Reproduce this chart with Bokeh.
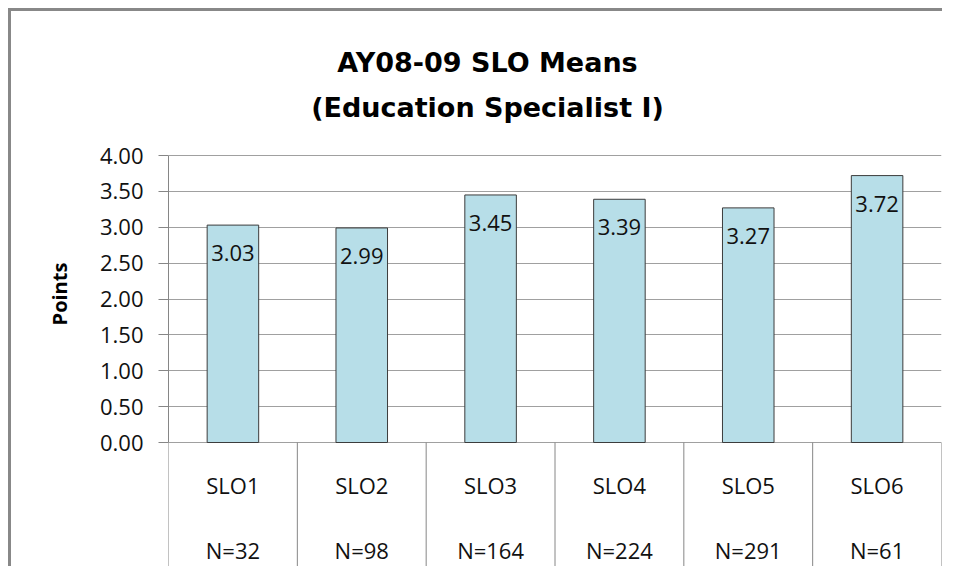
import numpy as np
from bokeh.plotting import figure
from bokeh.models import (Range1d, FactorRange, FixedTicker, PrintfTickFormatter,
                          ColumnDataSource)
from bokeh.core.properties import value
from bokeh.embed import file_html
from bokeh.resources import INLINE

# ---- data ----
categories = ["SLO1", "SLO2", "SLO3", "SLO4", "SLO5", "SLO6"]
n_labels = ["N=32", "N=98", "N=164", "N=224", "N=291", "N=61"]
means = [3.03, 2.99, 3.45, 3.39, 3.27, 3.72]
y_ticks = [0.0, 0.5, 1.0, 1.5, 2.0, 2.5, 3.0, 3.5, 4.0]
title_lines = ["AY08-09 SLO Means", "(Education Specialist I)"]
y_axis_title = "Points"

# ---- layout (canvas pixels) ----
W, H = 942, 566
FRAME_L, FRAME_R = 168, 941
FRAME_T, FRAME_B = 21, 566
ZERO_PX = 442
TOP_TICK_PX = 155
Y_AXIS_MAX = y_ticks[-1]
PX_PER_UNIT = (ZERO_PX - TOP_TICK_PX) / Y_AXIS_MAX
PX_PER_CAT = (FRAME_R - FRAME_L) / len(categories)
Y_MIN = -(FRAME_B - ZERO_PX) / PX_PER_UNIT
Y_MAX = (ZERO_PX - FRAME_T) / PX_PER_UNIT

FONT = value("Open Sans")
GRAY = "#868686"
TXT = "#111111"

p = figure(width=W, height=H,
           x_range=FactorRange(factors=categories, range_padding=0),
           y_range=Range1d(Y_MIN, Y_MAX),
           x_axis_location=None,
           output_backend="svg", toolbar_location=None,
           min_border_left=FRAME_L, min_border_right=W - FRAME_R,
           min_border_top=FRAME_T, min_border_bottom=H - FRAME_B)

p.outline_line_color = None
p.background_fill_color = "white"
p.border_fill_color = None
# chart-area frame: only its left and top edges fall inside the window
p.styles = {
    "background-image": "linear-gradient(#888888, #888888), linear-gradient(#888888, #888888)",
    "background-size": "3px 100%, 100% 3px",
    "background-position": "8px 8px, 8px 8px",
    "background-repeat": "no-repeat, no-repeat",
}
p.xgrid.visible = False

ax = p.yaxis[0]
ax.ticker = FixedTicker(ticks=y_ticks)
ax.bounds = (y_ticks[0], Y_AXIS_MAX)
ax.formatter = PrintfTickFormatter(format="%.2f")
ax.major_tick_out = 10
ax.major_tick_in = 0
ax.minor_tick_out = 0
ax.minor_tick_in = 0
ax.axis_line_color = GRAY
ax.major_tick_line_color = GRAY
ax.major_label_standoff = 15
ax.major_label_text_font = "Open Sans"
ax.major_label_text_font_size = "22px"
ax.major_label_text_color = TXT
ax.axis_label = y_axis_title
ax.axis_label_text_font = "Open Sans"
ax.axis_label_text_font_style = "bold"
ax.axis_label_text_font_size = "20px"
ax.axis_label_text_color = "black"
ax.axis_label_standoff = 24

p.ygrid.ticker = FixedTicker(ticks=y_ticks)
p.ygrid.grid_line_color = "#A0A0A0"
p.ygrid.grid_line_width = 1

src = ColumnDataSource(dict(cat=categories, mean=means, n=n_labels,
                            lab=[f"{m:.2f}" for m in means],
                            zero=[0.0] * len(categories)))

# category table dividers
bounds = list(range(len(categories) + 1))
p.segment(x0=bounds, y0=[0.0] * len(bounds), x1=bounds, y1=[Y_MIN] * len(bounds),
          line_color=GRAY, line_width=1)

p.vbar(x="cat", top="mean", bottom=0, width=0.4, source=src,
       fill_color="#B7DEE8", line_color="#3C3C3C", line_width=1)

p.text(x="cat", y="mean", text="lab", source=src, y_offset=28,
       text_align="center", text_baseline="middle",
       text_font=FONT, text_font_size="22px", text_color=TXT)

p.text(x="cat", y="zero", text="cat", source=src, y_offset=42,
       text_align="center", text_baseline="middle",
       text_font=FONT, text_font_size="22px", text_color=TXT)
p.text(x="cat", y="zero", text="n", source=src, y_offset=107,
       text_align="center", text_baseline="middle",
       text_font=FONT, text_font_size="22px", text_color=TXT)

# title (two lines, centred on the whole chart area)
title_cx = (487 - FRAME_L) / PX_PER_CAT
title_y = [(ZERO_PX - b) / PX_PER_UNIT for b in (62, 107)]
p.text(x=[title_cx] * 2, y=title_y, text=title_lines,
       text_align="center", text_baseline="alphabetic",
       text_font=value("DejaVu Sans"), text_font_style="bold", text_font_size="27px",
       text_color="black")

open("out.html", "w").write(file_html(p, INLINE))
